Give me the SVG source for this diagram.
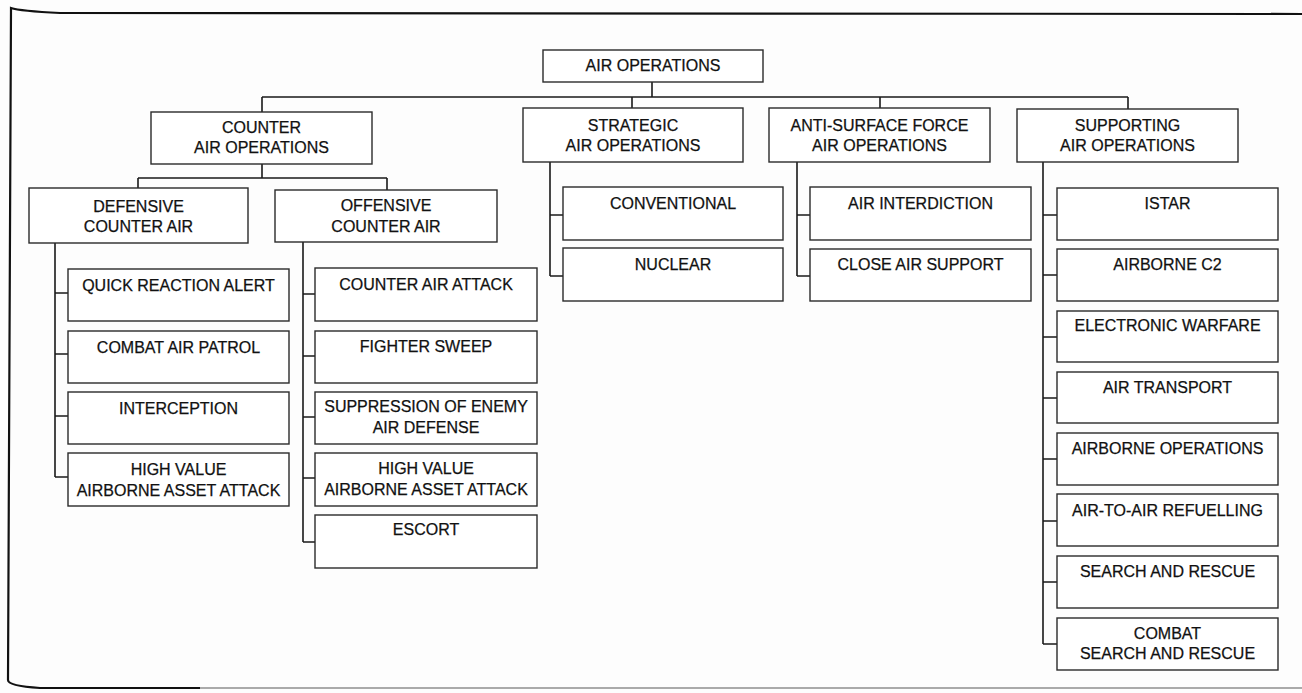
<svg xmlns="http://www.w3.org/2000/svg" width="1302" height="693" viewBox="0 0 1302 693">
<style>
.box{fill:#fff;stroke:#2a2a2a;stroke-width:1.4}
.t{font-family:"Liberation Sans",Arial,sans-serif;font-size:16px;fill:#111;stroke:#111;stroke-width:0.25;text-anchor:middle}
.c{fill:none;stroke:#1a1a1a;stroke-width:1.6}
</style>
<rect width="1302" height="693" fill="#fdfdfd"/>
<g id="frame" fill="none">
<path d="M1302 14 L60 13 Q20 11 11 8 L8 680 Q8 686 40 688 L200 688" stroke="#111" stroke-width="2.2"/>
<path d="M200 688 L1302 688" stroke="#aaa" stroke-width="2"/>
</g>
<g id="connectors" class="c">
<path d="M652 82V97M262 97H1128M262 97V112M632 97V108M880 97V108M1128 97V109"/>
<path d="M262 164V178M138 178H387M138 178V188M387 178V190"/>
<path d="M55 243V477M55 293H68M55 354H68M55 416H68M55 477H68"/>
<path d="M303 242V542M303 294H315M303 356H315M303 417H315M303 478H315M303 542H315"/>
<path d="M550 162V276M550 215H563M550 276H563"/>
<path d="M797 162V276M797 215H810M797 276H810"/>
<path d="M1043 162V644M1043 215H1057M1043 275H1057M1043 337H1057M1043 398H1057M1043 459H1057M1043 521H1057M1043 582H1057M1043 644H1057"/>
</g>
<g id="air-operations"><rect class="box" x="543" y="50" width="220" height="32"/><text class="t" x="653" y="71">AIR OPERATIONS</text></g>
<g id="counter-air-operations"><rect class="box" x="151" y="112" width="221" height="52"/><text class="t" x="261.5" y="133">COUNTER</text><text class="t" x="261.5" y="153">AIR OPERATIONS</text></g>
<g id="strategic-air-operations"><rect class="box" x="523" y="108" width="220" height="54"/><text class="t" x="633" y="131">STRATEGIC</text><text class="t" x="633" y="151">AIR OPERATIONS</text></g>
<g id="anti-surface"><rect class="box" x="769" y="108" width="221" height="54"/><text class="t" x="879.5" y="131">ANTI-SURFACE FORCE</text><text class="t" x="879.5" y="151">AIR OPERATIONS</text></g>
<g id="supporting-air-operations"><rect class="box" x="1017" y="109" width="221" height="53"/><text class="t" x="1127.5" y="131">SUPPORTING</text><text class="t" x="1127.5" y="151">AIR OPERATIONS</text></g>
<g id="defensive-counter-air"><rect class="box" x="29" y="188" width="219" height="55"/><text class="t" x="138.5" y="212">DEFENSIVE</text><text class="t" x="138.5" y="232">COUNTER AIR</text></g>
<g id="offensive-counter-air"><rect class="box" x="275" y="190" width="222" height="52"/><text class="t" x="386" y="211">OFFENSIVE</text><text class="t" x="386" y="232">COUNTER AIR</text></g>
<g id="quick-reaction-alert"><rect class="box" x="68" y="269" width="221" height="52"/><text class="t" x="178.5" y="291">QUICK REACTION ALERT</text></g>
<g id="combat-air-patrol"><rect class="box" x="68" y="331" width="221" height="52"/><text class="t" x="178.5" y="353">COMBAT AIR PATROL</text></g>
<g id="interception"><rect class="box" x="68" y="392" width="221" height="52"/><text class="t" x="178.5" y="414">INTERCEPTION</text></g>
<g id="hvaaa-defensive"><rect class="box" x="68" y="453" width="221" height="53"/><text class="t" x="178.5" y="475">HIGH VALUE</text><text class="t" x="178.5" y="496">AIRBORNE ASSET ATTACK</text></g>
<g id="counter-air-attack"><rect class="box" x="315" y="268" width="222" height="53"/><text class="t" x="426" y="290">COUNTER AIR ATTACK</text></g>
<g id="fighter-sweep"><rect class="box" x="315" y="331" width="222" height="52"/><text class="t" x="426" y="352">FIGHTER SWEEP</text></g>
<g id="sead"><rect class="box" x="315" y="392" width="222" height="52"/><text class="t" x="426" y="412">SUPPRESSION OF ENEMY</text><text class="t" x="426" y="433">AIR DEFENSE</text></g>
<g id="hvaaa-offensive"><rect class="box" x="315" y="453" width="222" height="53"/><text class="t" x="426" y="474">HIGH VALUE</text><text class="t" x="426" y="495">AIRBORNE ASSET ATTACK</text></g>
<g id="escort"><rect class="box" x="315" y="515" width="222" height="53"/><text class="t" x="426" y="535">ESCORT</text></g>
<g id="conventional"><rect class="box" x="563" y="187" width="220" height="53"/><text class="t" x="673" y="209">CONVENTIONAL</text></g>
<g id="nuclear"><rect class="box" x="563" y="248" width="220" height="53"/><text class="t" x="673" y="270">NUCLEAR</text></g>
<g id="air-interdiction"><rect class="box" x="810" y="187" width="221" height="53"/><text class="t" x="920.5" y="209">AIR INTERDICTION</text></g>
<g id="close-air-support"><rect class="box" x="810" y="249" width="221" height="52"/><text class="t" x="920.5" y="270">CLOSE AIR SUPPORT</text></g>
<g id="istar"><rect class="box" x="1057" y="188" width="221" height="52"/><text class="t" x="1167.5" y="209">ISTAR</text></g>
<g id="airborne-c2"><rect class="box" x="1057" y="249" width="221" height="52"/><text class="t" x="1167.5" y="270">AIRBORNE C2</text></g>
<g id="electronic-warfare"><rect class="box" x="1057" y="311" width="221" height="51"/><text class="t" x="1167.5" y="331">ELECTRONIC WARFARE</text></g>
<g id="air-transport"><rect class="box" x="1057" y="372" width="221" height="51"/><text class="t" x="1167.5" y="393">AIR TRANSPORT</text></g>
<g id="airborne-operations"><rect class="box" x="1057" y="433" width="221" height="52"/><text class="t" x="1167.5" y="454">AIRBORNE OPERATIONS</text></g>
<g id="air-to-air-refuelling"><rect class="box" x="1057" y="494" width="221" height="52"/><text class="t" x="1167.5" y="516">AIR-TO-AIR REFUELLING</text></g>
<g id="search-and-rescue"><rect class="box" x="1057" y="556" width="221" height="52"/><text class="t" x="1167.5" y="577">SEARCH AND RESCUE</text></g>
<g id="combat-search-and-rescue"><rect class="box" x="1057" y="618" width="221" height="52"/><text class="t" x="1167.5" y="639">COMBAT</text><text class="t" x="1167.5" y="659">SEARCH AND RESCUE</text></g>
</svg>
